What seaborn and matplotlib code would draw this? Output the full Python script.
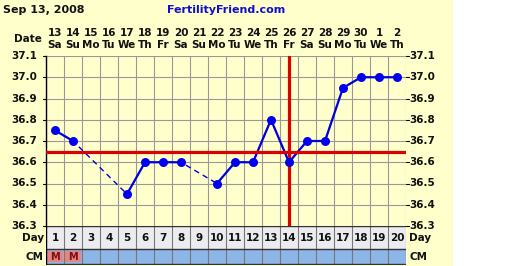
import numpy as np
import pandas as pd
import matplotlib
matplotlib.use("Agg")
import matplotlib.pyplot as plt
import seaborn as sns

# ---- data ----
days = list(range(1, 21))
dates = ["13", "14", "15", "16", "17", "18", "19", "20", "21", "22", "23", "24",
         "25", "26", "27", "28", "29", "30", "1", "2"]
weekdays = ["Sa", "Su", "Mo", "Tu", "We", "Th", "Fr", "Sa", "Su", "Mo", "Tu", "We",
            "Th", "Fr", "Sa", "Su", "Mo", "Tu", "We", "Th"]
temps = [36.75, 36.70, np.nan, np.nan, 36.45, 36.60, 36.60, 36.60, np.nan, 36.50,
         36.60, 36.60, 36.80, 36.60, 36.70, 36.70, 36.95, 37.00, 37.00, 37.00]
cm = ["M", "M"] + [""] * 18
coverline = 36.65
ovulation_day = 14
y_ticks = [36.3, 36.4, 36.5, 36.6, 36.7, 36.8, 36.9, 37.0, 37.1]
title_left = "Sep 13, 2008"
title_center = "FertilityFriend.com"

# ---- figure ----
W, H = 519, 266
sns.set_style("white")
plt.rcParams['font.family'] = ['DejaVu Sans']
fig = plt.figure(figsize=(W / 100, H / 100), dpi=100)
fig.patch.set_facecolor("white")
yellow = "#ffffcc"
fig.patches.append(plt.Rectangle((0, 0), 453 / W, 1, transform=fig.transFigure,
                                 facecolor=yellow, edgecolor="none", zorder=-10))

def px(x0, y0, x1, y1):
    return [x0 / W, 1 - y1 / H, (x1 - x0) / W, (y1 - y0) / H]

ax = fig.add_axes(px(46, 56, 406, 226))
ax.set_facecolor(yellow)
ax.set_xlim(0.5, 20.5)
ax.set_ylim(36.3, 37.1)

# grid
for k in range(21):
    ax.axvline(0.5 + k, color="#999999", lw=0.8, zorder=1)
for t in y_ticks:
    ax.axhline(t, color="#999999", lw=0.8, zorder=1)

df = pd.DataFrame({"day": days, "temp": temps})
valid = df.dropna().copy()
# segments of consecutive days
seg = (valid["day"].diff() != 1).cumsum()
valid["seg"] = seg.values

sns.lineplot(data=valid, x="day", y="temp", ax=ax, color="#0000dd", lw=1.0,
             linestyle=(0, (4, 3)), zorder=3, estimator=None, sort=True)
sns.lineplot(data=valid, x="day", y="temp", units="seg", estimator=None, ax=ax,
             color="#0000dd", lw=1.6, zorder=4)

# coverline & ovulation
ax.axhline(coverline, color="#dd0000", lw=2.3, zorder=5)
ax.axvline(ovulation_day, color="#dd0000", lw=2.3, zorder=5)

sns.scatterplot(data=valid, x="day", y="temp", ax=ax, color="#0000ee", s=42,
                edgecolor="#0000ee", linewidth=0, zorder=6)

ax.set_xlabel("")
ax.set_ylabel("")
ax.set_xticks([])
ax.set_yticks([])
for s in ["top", "right", "bottom"]:
    ax.spines[s].set_visible(False)
ax.spines["left"].set_color("black")
ax.spines["left"].set_linewidth(1.0)

fs = 7.5
fw = "bold"
for t in y_ticks:
    ax.text(0.02, t, f"{t:.1f}", ha="right", va="center", fontsize=fs,
            fontweight=fw, color="#111111", clip_on=False)
    ax.text(20.66, t, f"{t:.1f}", ha="left", va="center", fontsize=fs,
            fontweight=fw, color="#111111", clip_on=False)
    ax.plot([0.35, 0.5], [t, t], color="black", lw=0.8, clip_on=False)
    ax.plot([20.5, 20.65], [t, t], color="black", lw=0.8, clip_on=False)

# top labels
for d, dt, wd in zip(days, dates, weekdays):
    fig.text((46 + (d - 0.5) * 18) / W, 1 - 33 / H, dt, ha="center", va="center",
             fontsize=fs, fontweight=fw, color="#111111")
    fig.text((46 + (d - 0.5) * 18) / W, 1 - 45 / H, wd, ha="center", va="center",
             fontsize=fs, fontweight=fw, color="#111111")
fig.text(42 / W, 1 - 39 / H, "Date", ha="right", va="center", fontsize=fs,
         fontweight=fw, color="#111111")
fig.text(3 / W, 1 - 10 / H, title_left, ha="left", va="center", fontsize=8,
         fontweight=fw, color="#111111")
fig.text(226 / W, 1 - 10 / H, title_center, ha="center", va="center", fontsize=8,
         fontweight=fw, color="#1010cc")

# bottom rows
bx = fig.add_axes(px(46, 226, 406, 265))
bx.set_xlim(0.5, 20.5)
bx.set_ylim(39, 0)
bx.axis("off")
bx.add_patch(plt.Rectangle((0.5, 0), 20, 23, facecolor="#ebebf0", edgecolor="none"))
bx.add_patch(plt.Rectangle((0.5, 23), 20, 15, facecolor="#8cb6e8", edgecolor="none"))
for k in range(21):
    bx.plot([0.5 + k, 0.5 + k], [0, 38], color="#777777", lw=0.8)
bx.plot([0.5, 20.5], [0.4, 0.4], color="#333333", lw=1.0)
bx.plot([0.5, 20.5], [23, 23], color="#333333", lw=1.0)
bx.plot([0.5, 20.5], [38, 38], color="#333333", lw=1.0)
bx.plot([0.5, 0.5], [0, 38], color="black", lw=1.0)
for d, c in zip(days, cm):
    bx.text(d, 12, str(d), ha="center", va="center", fontsize=fs, fontweight=fw,
            color="#111111")
    if c:
        bx.add_patch(plt.Rectangle((d - 0.42, 25), 0.84, 11, facecolor="#e88484",
                                   edgecolor="none"))
        bx.text(d, 30.5, c, ha="center", va="center", fontsize=fs - 0.5,
                fontweight=fw, color="#7a1010")
fig.text(44 / W, 1 - 238 / H, "Day", ha="right", va="center", fontsize=fs,
         fontweight=fw, color="#111111")
fig.text(44 / W, 1 - 257 / H, "CM", ha="right", va="center", fontsize=fs,
         fontweight=fw, color="#111111")
fig.text(409 / W, 1 - 238 / H, "Day", ha="left", va="center", fontsize=fs,
         fontweight=fw, color="#111111")
fig.text(409 / W, 1 - 257 / H, "CM", ha="left", va="center", fontsize=fs,
         fontweight=fw, color="#111111")

fig.savefig("out.png", dpi=100, facecolor=fig.get_facecolor())
